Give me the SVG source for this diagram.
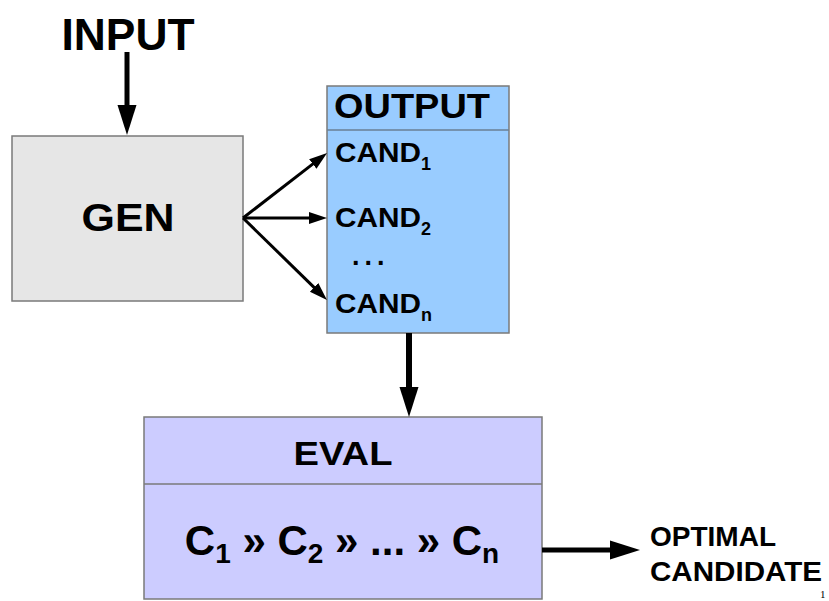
<svg xmlns="http://www.w3.org/2000/svg" width="829" height="601" viewBox="0 0 829 601">
<defs>
<style>
.t{font-family:"Liberation Sans",Arial,sans-serif;font-weight:bold;fill:#000}
.box{stroke:#7a7a7a;stroke-width:1.5}
.thick{stroke:#000;fill:none;marker-end:url(#hd)}
.thin{stroke:#000;stroke-width:3;fill:none;marker-end:url(#hs)}
</style>
<marker id="hd" markerUnits="userSpaceOnUse" markerWidth="31" markerHeight="21" refX="1" refY="10" orient="auto"><path d="M0,0.5 L30,10 L0,19.5 z" fill="#000"/></marker>
<marker id="hs" markerUnits="userSpaceOnUse" markerWidth="19" markerHeight="13" refX="1" refY="6" orient="auto"><path d="M0,0 L18,6 L0,12 z" fill="#000"/></marker>
</defs>
<rect width="829" height="601" fill="#fff"/>
<g id="input">
<text class="t" x="128" y="50" font-size="45" text-anchor="middle" textLength="133" lengthAdjust="spacingAndGlyphs">INPUT</text>
</g>
<g id="gen">
<rect class="box" x="12" y="136" width="231" height="165" fill="#e6e6e6"/>
<text class="t" x="128" y="231" font-size="39" text-anchor="middle" textLength="93" lengthAdjust="spacingAndGlyphs">GEN</text>
</g>
<g id="output">
<rect class="box" x="327" y="86" width="182" height="247" fill="#99ccff" stroke="#6a7f95"/>
<line x1="327" y1="130" x2="509" y2="130" stroke="#6a7f95" stroke-width="1.5"/>
<text class="t" x="334" y="118" font-size="35" textLength="156" lengthAdjust="spacingAndGlyphs">OUTPUT</text>
<text class="t" x="335" y="162" font-size="27"><tspan textLength="86" lengthAdjust="spacingAndGlyphs">CAND</tspan><tspan font-size="18" dy="8">1</tspan></text>
<text class="t" x="335" y="227" font-size="27"><tspan textLength="86" lengthAdjust="spacingAndGlyphs">CAND</tspan><tspan font-size="18" dy="8">2</tspan></text>
<text class="t" x="352" y="265" font-size="27" letter-spacing="5">...</text>
<text class="t" x="335" y="313" font-size="27"><tspan textLength="86" lengthAdjust="spacingAndGlyphs">CAND</tspan><tspan font-size="18" dy="8">n</tspan></text>
</g>
<g id="eval">
<rect class="box" x="144" y="417" width="398" height="182" fill="#ccccff"/>
<line x1="144" y1="484" x2="542" y2="484" stroke="#7a7a7a" stroke-width="1.5"/>
<text class="t" x="343" y="465" font-size="34" text-anchor="middle" textLength="99" lengthAdjust="spacingAndGlyphs">EVAL</text>
<text class="t" x="342" y="555" font-size="42" text-anchor="middle">C<tspan font-size="28" dy="8">1</tspan><tspan dy="-8"> » C</tspan><tspan font-size="28" dy="8">2</tspan><tspan dy="-8"> » ... » C</tspan><tspan font-size="28" dy="8">n</tspan></text>
</g>
<g id="optimal">
<text class="t" x="650" y="546" font-size="28">OPTIMAL</text>
<text class="t" x="650" y="581" font-size="28" textLength="172" lengthAdjust="spacingAndGlyphs">CANDIDATE</text>
</g>
<g id="connectors">
<line class="thick" x1="127" y1="52" x2="127" y2="106" stroke-width="5"/>
<line class="thin" x1="243" y1="218" x2="313.6" y2="163.4"/>
<line class="thin" x1="243" y1="218" x2="310" y2="218"/>
<line class="thin" x1="243" y1="218" x2="314.8" y2="288.1"/>
<line class="thick" x1="409" y1="333" x2="409" y2="388" stroke-width="6"/>
<line class="thick" x1="542" y1="550" x2="611" y2="550" stroke-width="5"/>
</g>
<text x="820" y="598" font-family="'Liberation Serif',serif" font-size="11" fill="#000">1</text>
</svg>
